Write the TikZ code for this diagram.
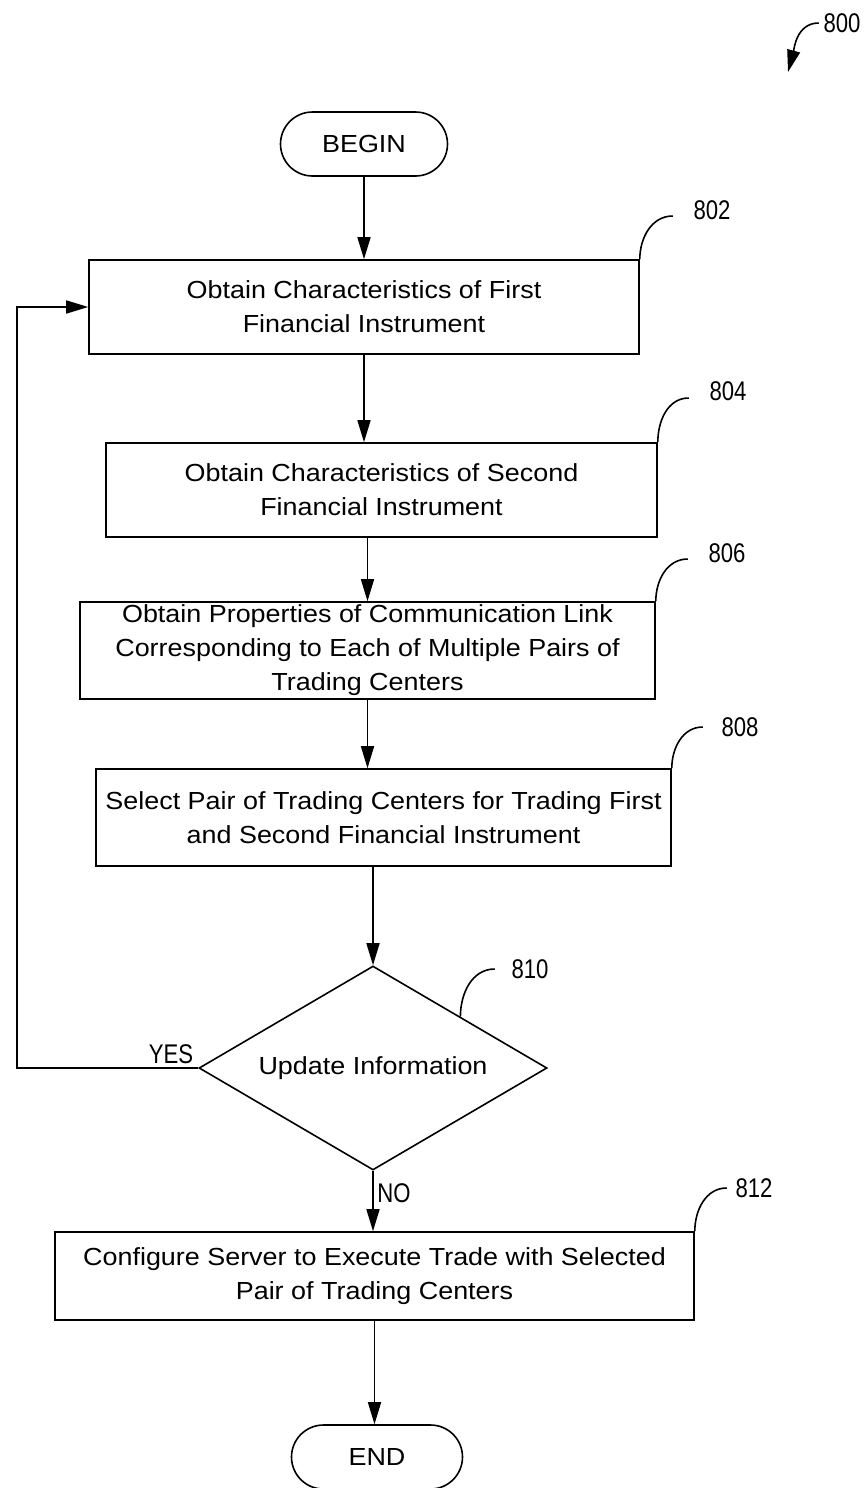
\documentclass[tikz,border=0pt]{standalone}
\usepackage{fontspec}
\setmainfont{Liberation Sans}[FakeStretch=1.09]
\newfontfamily\refnum{Liberation Sans}[FakeStretch=0.82]
\usetikzlibrary{arrows.meta,positioning,shapes.geometric}

\begin{document}
\begin{tikzpicture}[x=0.5pt, y=-0.5pt, line width=0.8pt,
	every node/.style={font=\fontsize{12.35}{17}\selectfont, inner sep=0pt},
	stepbox/.style={draw, align=center},
	term/.style={draw, rounded corners=16pt, minimum height=32pt},
	decide/.style={draw, diamond, shape aspect=1.7, minimum width=174pt, minimum height=102pt},
	refno/.style={font=\refnum\fontsize{13.5}{16}\selectfont},
	flow/.style={-{Triangle[length=11pt,width=6.5pt]}}]
	\useasboundingbox (0,0) rectangle (866,1488);
	% steps
	\node[term, minimum width=83.5pt] (begin) at (364,144) {BEGIN};
	\node[stepbox, minimum width=275pt, minimum height=47pt] (s802) at (364,307)
		{Obtain Characteristics of First\\Financial Instrument};
	\node[stepbox, minimum width=275.5pt, minimum height=47pt] (s804) at (381.5,490)
		{Obtain Characteristics of Second\\Financial Instrument};
	\node[stepbox, minimum width=287.5pt, minimum height=48.5pt] (s806) at (367.5,650.5)
		{Obtain Properties of Communication Link\\Corresponding to Each of Multiple Pairs of\\Trading Centers};
	\node[stepbox, minimum width=287.5pt, minimum height=48.5pt] (s808) at (383.5,817.5)
		{Select Pair of Trading Centers for Trading First\\and Second Financial Instrument};
	\node[decide] (s810) at (373,1068) {Update Information};
	\node[stepbox, minimum width=319.5pt, minimum height=44pt] (s812) at (374.5,1276)
		{Configure Server to Execute Trade with Selected\\Pair of Trading Centers};
	\node[term, minimum width=85.5pt] (end) at (377,1457) {END};
	% arrows
	\draw[flow] (begin) -- (begin |- s802.north);
	\draw[flow] (s802.south) -- (s802.south |- s804.north);
	\draw[flow] (s804.south -| s806.north) -- (s806.north);
	\draw[flow] (s806.south) -- (s806.south |- s808.north);
	\draw[flow] (s808.south -| s810.north) -- (s810.north);
	\draw[flow] (s810.south) -- (s810.south |- s812.north);
	\draw[flow] (s812.south) -- (s812.south |- end.north);
	\draw[flow] (s810.west) -- ++(-181,0) |- (s802.west);
	\node[refno] (yes) at (171,1054) {YES};
	\node[refno] (no) at (394,1193) {NO};
	% reference numbers
	\node[refno] (n800) at (842,23) {800};
	\coordinate (p800) at (788,72);
	\draw[flow] ([xshift=-2pt]n800.west) to[out=180,in=75] (p800);
	\node[refno] (n802) at (712,210) {802};
	\draw (s802.north east) to[out=90,in=180] ([xshift=-10pt,yshift=-3pt]n802.west);
	\node[refno] (n804) at (728,391) {804};
	\draw (s804.north east) to[out=90,in=180] ([xshift=-10pt,yshift=-3.5pt]n804.west);
	\node[refno] (n806) at (727,553) {806};
	\draw (s806.north east) to[out=90,in=180] ([xshift=-10pt,yshift=-3pt]n806.west);
	\node[refno] (n808) at (740,727) {808};
	\draw (s808.north east) to[out=90,in=180] ([xshift=-9pt]n808.west);
	\node[refno] (n810) at (530,969) {810};
	\draw (s810.north east) to[out=90,in=180] ([xshift=-8pt]n810.west);
	\node[refno] (n812) at (754,1188) {812};
	\draw (s812.north east) to[out=90,in=180] ([xshift=-4pt]n812.west);
\end{tikzpicture}
\end{document}
